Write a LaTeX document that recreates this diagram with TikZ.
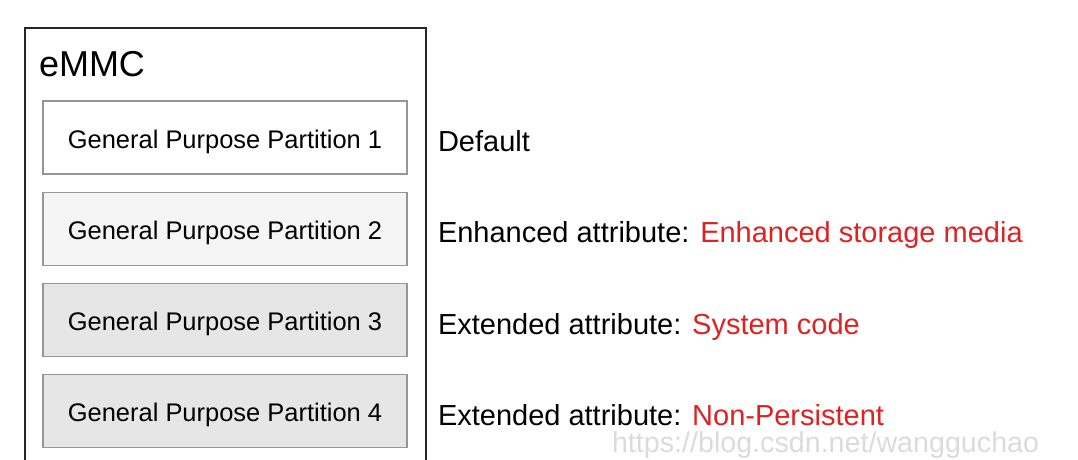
\documentclass[tikz,border=0pt]{standalone}
\usepackage{fontspec}
\setmainfont{Liberation Sans}
\usetikzlibrary{positioning}

\definecolor{attrred}{RGB}{222,34,34}
\definecolor{partline}{RGB}{150,150,150}
\definecolor{partfill2}{RGB}{245,245,245}
\definecolor{partfill3}{RGB}{230,230,230}

\def\Part{Part}
\def\Attr{Attr}

\begin{document}
\begin{tikzpicture}[x=0.75pt,y=-0.75pt,
  every node/.style={inner sep=0pt,outer sep=0pt},
  part/.style={draw=partline,line width=0.9pt,
    minimum width=273pt,minimum height=54.75pt,
    text height=15.8pt,text depth=0pt,
    font=\fontsize{19.1}{22}\selectfont},
  attr/.style={anchor=base west,font=\fontsize{21.75}{26}\selectfont},]

\useasboundingbox (0,0) rectangle (1078,460);
\clip (0,0) rectangle (1078,460);

% eMMC box (runs off the bottom)
\draw [line width=1.2pt,draw=black!85] (25,28) rectangle (426,480);
\node [anchor=base west,font=\fontsize{27}{32}\selectfont] (emmc) at (39,77) {eMMC};

% Partitions
\node [part,fill=white] (\Part 1) at (225,137.5) {General Purpose Partition 1};
\node [part,fill=partfill2,below=13.7pt of \Part 1] (\Part 2) {General Purpose Partition 2};
\node [part,fill=partfill3,below=13.7pt of \Part 2] (\Part 3) {General Purpose Partition 3};
\node [part,fill=partfill3,below=13.7pt of \Part 3] (\Part 4) {General Purpose Partition 4};

% Attribute labels
\node [attr] (\Attr 1) at ([xshift=23.25pt,yshift=-10.5pt]\Part 1.east)
  {Default};
\node [attr] (\Attr 2) at ([xshift=23.25pt,yshift=-10.5pt]\Part 2.east)
  {Enhanced attribute: \textcolor{attrred}{Enhanced storage media}};
\node [attr] (\Attr 3) at ([xshift=23.25pt,yshift=-10.5pt]\Part 3.east)
  {Extended attribute: \textcolor{attrred}{System code}};
\node [attr] (\Attr 4) at ([xshift=23.25pt,yshift=-10.5pt]\Part 4.east)
  {Extended attribute: \textcolor{attrred}{Non-Persistent}};

% Watermark
\node [anchor=base west,text=black!14,font=\fontsize{21.5}{26}\selectfont]
  (mark) at (612,452) {https://blog.csdn.net/wangguchao};

\end{tikzpicture}
\end{document}
